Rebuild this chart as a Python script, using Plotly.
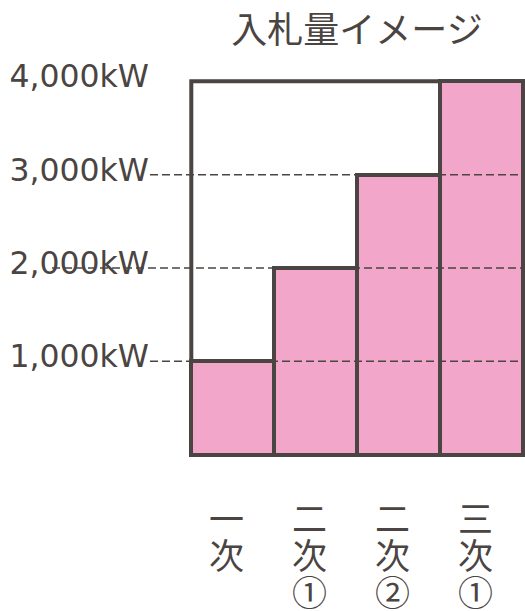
import plotly.graph_objects as go

# ---- data ----
categories = ["一次", "二次①", "二次②", "三次①"]
values_kw = [1000, 2000, 3000, 4000]
tick_values = [1000, 2000, 3000, 4000]
tick_labels = ["1,000kW", "2,000kW", "3,000kW", "4,000kW"]
grid_values = [1000, 2000, 3000]
title_text = "入札量イメージ"

# ---- style ----
PINK = "#F2A6C9"
DARK = "#4A4442"
W, H = 525, 611
ML, MR, MT, MB = 183, 0, 72, 147
plot_w = W - ML - MR
grid_start_px = {1000: 150, 2000: 52, 3000: 150}
ROW = 37

x_idx = list(range(len(categories)))

fig = go.Figure()
fig.add_trace(go.Bar(
    x=x_idx, y=values_kw, width=1,
    marker=dict(color=PINK, line=dict(color=DARK, width=4)),
    hoverinfo="skip", showlegend=False,
))

shapes = [dict(
    type="rect", xref="x", yref="y",
    x0=-0.5, x1=len(categories) - 0.5, y0=0, y1=max(tick_values),
    line=dict(color=DARK, width=4), fillcolor="white", layer="below",
)]
for v in grid_values:
    shapes.append(dict(
        type="line", xref="paper", yref="y",
        x0=(grid_start_px[v] - ML) / plot_w, x1=1.02, y0=v, y1=v,
        line=dict(color=DARK, width=1.5, dash="8px,4px"), layer="above",
    ))

annotations = []
for i, label in enumerate(categories):
    for j, ch in enumerate(label):
        annotations.append(dict(
            x=i, y=0, xref="x", yref="y", text=ch, showarrow=False,
            xanchor="center", yanchor="middle", height=ROW,
            xshift=-6, yshift=-(62 + j * ROW),
            font=dict(family="Noto Sans CJK JP", size=35, color=DARK),
        ))

fig.update_layout(
    width=W, height=H,
    margin=dict(l=ML, r=MR, t=MT, b=MB, pad=0),
    paper_bgcolor="white", plot_bgcolor="white",
    title=dict(
        text=title_text, xref="paper", x=(357 - ML) / plot_w, xanchor="center",
        yref="container", y=1 - 30 / H, yanchor="middle",
        font=dict(family="Noto Sans CJK JP", size=36, color=DARK),
    ),
    xaxis=dict(range=[-0.6, 3.52], showticklabels=False, showgrid=False,
               zeroline=False, showline=False, ticks=""),
    yaxis=dict(range=[-100, 4100], tickvals=tick_values, ticktext=tick_labels,
               showgrid=False, zeroline=False, showline=False, ticks="",
               ticklabelstandoff=33, ticklabelshift=-5,
               tickfont=dict(family="DejaVu Sans", size=31.5, color=DARK)),
    shapes=shapes, annotations=annotations,
    bargap=0,
)

fig.write_html("out.html")
